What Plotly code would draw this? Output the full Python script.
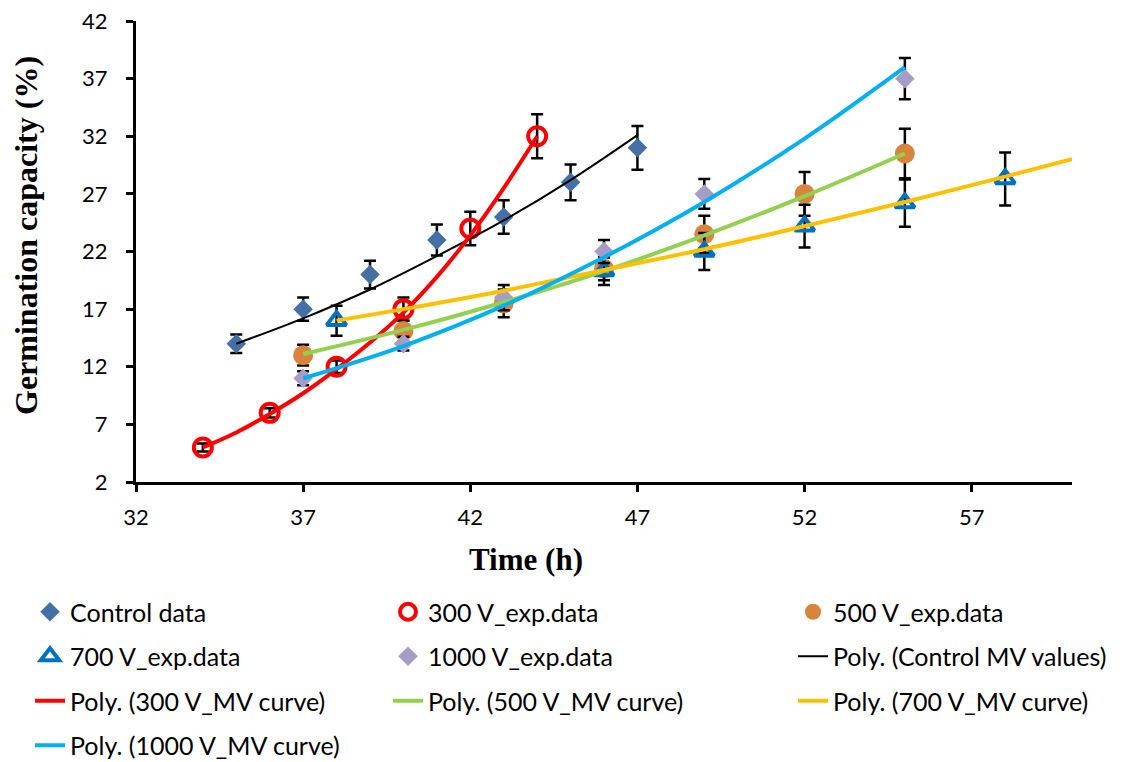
import plotly.graph_objects as go

# ---------------- data ----------------
ctrl_x = [35, 37, 39, 41, 43, 45, 47]
ctrl_y = [14, 17, 20, 23, 25, 28, 31]
ctrl_err = [0.8, 1.0, 1.2, 1.35, 1.45, 1.55, 1.9]

v300_x = [34, 36, 38, 40, 42, 44]
v300_y = [5, 8, 12, 17, 24, 32]
v300_err = [0.35, 0.4, 0.55, 1.0, 1.45, 1.9]

v500_x = [37, 40, 43, 46, 49, 52, 55]
v500_y = [13, 15.1, 17.5, 20.5, 23.5, 27, 30.5]
v500_err = [0.9, 0.9, 1.2, 1.0, 1.6, 1.9, 2.15]

v700_x = [38, 46, 49, 52, 55, 58]
v700_y = [16, 20.3, 22, 24.2, 26.2, 28.3]
v700_err = [1.3, 1.2, 1.6, 1.85, 2.05, 2.3]

v1000_x = [37, 40, 43, 46, 49, 55]
v1000_y = [11, 14, 18, 22, 27, 37]
v1000_err = [0.6, 0.6, 1.1, 1.0, 1.3, 1.8]

# trend curves
ctrl_fit_x = [35, 37, 39, 41, 43, 45, 47]
ctrl_fit_y = [14.0, 16.2, 18.7, 21.6, 24.7, 28.2, 32.1]

v300_fit_x = [34, 35, 36, 37, 38, 39, 40, 41, 42, 43, 44]
v300_fit_y = [5.0, 6.3, 7.9, 9.7, 11.8, 14.1, 16.7, 19.8, 23.4, 27.5, 32.0]

v500_fit_x = [37, 40, 43, 46, 49, 52, 55]
v500_fit_y = [13.1, 15.2, 17.6, 20.3, 23.4, 26.8, 30.5]

v700_fit_x = [38, 40, 43, 46, 49, 52, 55, 58, 60]
v700_fit_y = [16.0, 17.0, 18.6, 20.4, 22.2, 24.2, 26.3, 28.5, 30.0]

v1000_fit_x = [37, 40, 43, 46, 49, 52, 55]
v1000_fit_y = [11.0, 13.8, 17.3, 21.5, 26.3, 31.8, 38.0]

x_ticks = [32, 37, 42, 47, 52, 57]
y_ticks = [2, 7, 12, 17, 22, 27, 32, 37, 42]

# ---------------- styles ----------------
C_CTRL = "#4470A6"
C_300 = "#FF0000"
C_500 = "#D9843C"
C_700 = "#0070C0"
C_1000 = "#A59DC6"
C_G = "#92D050"
C_Y = "#FFC000"
C_B = "#00B0F0"

LEG_FONT = dict(family="Lato", size=25, color="black")

def err(vals):
    return dict(type="data", array=vals, visible=True, color="black",
                thickness=2.5, width=6)

fig = go.Figure()

fig.add_trace(go.Scatter(x=ctrl_x, y=ctrl_y, mode="markers", name="Control data",
                         marker=dict(symbol="diamond", size=15, color=C_CTRL),
                         error_y=err(ctrl_err), legend="legend", legendgroup="a1"))
fig.add_trace(go.Scatter(x=v300_x, y=v300_y, mode="markers", name="300 V_exp.data",
                         marker=dict(symbol="circle-open", size=18, color=C_300,
                                     line=dict(width=4, color=C_300)),
                         error_y=err(v300_err), legend="legend2", legendgroup="b1"))
fig.add_trace(go.Scatter(x=v500_x, y=v500_y, mode="markers", name="500 V_exp.data",
                         marker=dict(symbol="circle", size=20, color=C_500),
                         error_y=err(v500_err), legend="legend3", legendgroup="c1"))
fig.add_trace(go.Scatter(x=v700_x, y=v700_y, mode="markers", name="700 V_exp.data",
                         marker=dict(symbol="triangle-up-open", size=17, color=C_700,
                                     line=dict(width=4, color=C_700)),
                         error_y=err(v700_err), legend="legend", legendgroup="a2"))
fig.add_trace(go.Scatter(x=v1000_x, y=v1000_y, mode="markers", name="1000 V_exp.data",
                         marker=dict(symbol="diamond", size=15, color=C_1000),
                         error_y=err(v1000_err), legend="legend2", legendgroup="b2"))

fig.add_trace(go.Scatter(x=ctrl_fit_x, y=ctrl_fit_y, mode="lines",
                         name="Poly. (Control MV values)",
                         line=dict(color="black", width=2, shape="spline"),
                         legend="legend3", legendgroup="c2"))
fig.add_trace(go.Scatter(x=v300_fit_x, y=v300_fit_y, mode="lines",
                         name="Poly. (300 V_MV curve)",
                         line=dict(color=C_300, width=4, shape="spline"),
                         legend="legend", legendgroup="a3"))
fig.add_trace(go.Scatter(x=v500_fit_x, y=v500_fit_y, mode="lines",
                         name="Poly. (500 V_MV curve)",
                         line=dict(color=C_G, width=4, shape="spline"),
                         legend="legend2", legendgroup="b3"))
fig.add_trace(go.Scatter(x=v700_fit_x, y=v700_fit_y, mode="lines",
                         name="Poly. (700 V_MV curve)",
                         line=dict(color=C_Y, width=4, shape="spline"),
                         legend="legend3", legendgroup="c3"))
fig.add_trace(go.Scatter(x=v1000_fit_x, y=v1000_fit_y, mode="lines",
                         name="Poly. (1000 V_MV curve)",
                         line=dict(color=C_B, width=4, shape="spline"),
                         legend="legend", legendgroup="a4"))

W, H = 1122, 762
# margins (the page adds ~9px of offset around the figure)
L, R, T, B = 128, 58, 13, 288
# plot area as it should appear on screen
PX0, PX1, PY0, PY1 = 137, 1073, 22, 483

def px_x(px):
    return (px - PX0) / (PX1 - PX0)

def px_y(py):
    return (PY1 - py) / (PY1 - PY0)

def leg(xpx, ytop):
    return dict(xref="container", yref="container", x=xpx / W, y=1 - ytop / H,
                xanchor="left", yanchor="top", orientation="v",
                traceorder="grouped", tracegroupgap=9, font=LEG_FONT,
                bgcolor="rgba(0,0,0,0)", itemwidth=30)

axis_common = dict(showgrid=False, zeroline=False, showline=True, linecolor="black",
                   linewidth=3, ticks="outside", ticklen=7, tickwidth=3,
                   tickcolor="black", mirror=False, ticklabeloverflow="allow",
                   tickfont=dict(family="Lato", size=22, color="black"))

fig.update_layout(
    width=W, height=H,
    margin=dict(l=L, r=R, t=T, b=B, autoexpand=False),
    paper_bgcolor="white", plot_bgcolor="white",
    xaxis=dict(range=[32, 60], tickvals=x_ticks, ticklabelstandoff=7, **axis_common),
    yaxis=dict(range=[2, 42], tickvals=y_ticks, ticklabelstandoff=14, **axis_common),
    legend=leg(22, 581),
    legend2=leg(380, 581),
    legend3=leg(785, 581),
    showlegend=True,
    annotations=[
        dict(text="<b>Time (h)</b>", xref="paper", yref="paper",
             x=px_x(527), y=px_y(560),
             xanchor="center", yanchor="middle", showarrow=False,
             font=dict(family="Liberation Serif", size=31, color="black")),
        dict(text="<b>Germination capacity (%)</b>", xref="paper", yref="paper",
             x=px_x(27), y=px_y(237),
             xanchor="center", yanchor="middle", textangle=-90, showarrow=False,
             font=dict(family="Liberation Serif", size=32, color="black")),
    ],
)

fig.write_html("out.html")
